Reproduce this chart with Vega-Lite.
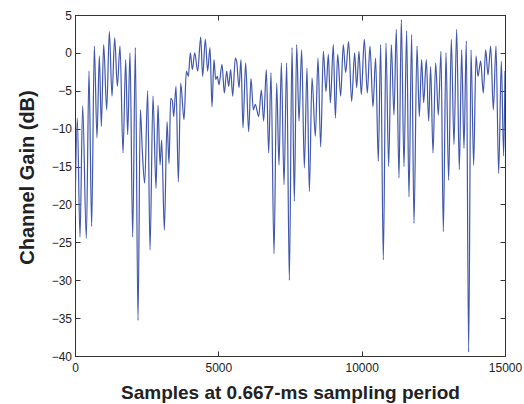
{
  "$schema": "https://vega.github.io/schema/vega-lite/v6.json",
  "width": 430,
  "height": 341,
  "autosize": {"type": "none"},
  "padding": {"left": 75, "top": 15, "right": 19, "bottom": 48},
  "background": "white",
  "config": {
    "view": {"stroke": "#333333", "strokeWidth": 1},
    "axis": {
      "domainColor": "#333333",
      "tickColor": "#333333",
      "tickSize": -5,
      "grid": false,
      "labelFont": "Liberation Sans",
      "labelFontSize": 12,
      "labelColor": "#222222",
      "labelFlush": false,
      "labelOverlap": false,
      "labelBound": false,
      "titleFont": "Liberation Sans",
      "titleFontWeight": "bold",
      "titleFontSize": 19,
      "titleColor": "#222222"
    }
  },
  "data": {"values": [
    {"sample": 0, "gain": -21.5},
    {"sample": 81, "gain": -8.6},
    {"sample": 174, "gain": -24.3},
    {"sample": 267, "gain": -7.0},
    {"sample": 395, "gain": -24.5},
    {"sample": 488, "gain": -2.4},
    {"sample": 581, "gain": -22.9},
    {"sample": 674, "gain": 0.9},
    {"sample": 767, "gain": -11.2},
    {"sample": 849, "gain": -0.4},
    {"sample": 919, "gain": -9.7},
    {"sample": 1000, "gain": 1.1},
    {"sample": 1105, "gain": -7.5},
    {"sample": 1198, "gain": 2.8},
    {"sample": 1291, "gain": -5.7},
    {"sample": 1384, "gain": 2.0},
    {"sample": 1477, "gain": -4.4},
    {"sample": 1570, "gain": 0.9},
    {"sample": 1675, "gain": -13.2},
    {"sample": 1768, "gain": -0.9},
    {"sample": 1837, "gain": -10.8},
    {"sample": 1919, "gain": 0.0},
    {"sample": 2012, "gain": -24.3},
    {"sample": 2105, "gain": 0.7},
    {"sample": 2198, "gain": -35.3},
    {"sample": 2279, "gain": -7.5},
    {"sample": 2349, "gain": -13.0},
    {"sample": 2431, "gain": -17.2},
    {"sample": 2535, "gain": -5.0},
    {"sample": 2617, "gain": -26.0},
    {"sample": 2721, "gain": -5.7},
    {"sample": 2826, "gain": -17.9},
    {"sample": 2896, "gain": -6.9},
    {"sample": 2966, "gain": -14.8},
    {"sample": 3024, "gain": -11.5},
    {"sample": 3117, "gain": -23.4},
    {"sample": 3210, "gain": -9.1},
    {"sample": 3280, "gain": -14.6},
    {"sample": 3338, "gain": -6.0},
    {"sample": 3396, "gain": -6.3},
    {"sample": 3442, "gain": -8.4},
    {"sample": 3524, "gain": -4.4},
    {"sample": 3605, "gain": -17.0},
    {"sample": 3687, "gain": -4.0},
    {"sample": 3803, "gain": -8.8},
    {"sample": 3884, "gain": -2.4},
    {"sample": 3954, "gain": -3.1},
    {"sample": 4024, "gain": 0.0},
    {"sample": 4094, "gain": -2.2},
    {"sample": 4175, "gain": 0.0},
    {"sample": 4280, "gain": -2.4},
    {"sample": 4385, "gain": 2.1},
    {"sample": 4453, "gain": -3.1},
    {"sample": 4546, "gain": 1.8},
    {"sample": 4627, "gain": -2.4},
    {"sample": 4709, "gain": 0.7},
    {"sample": 4779, "gain": -7.1},
    {"sample": 4848, "gain": -0.9},
    {"sample": 4907, "gain": -3.5},
    {"sample": 4965, "gain": -3.1},
    {"sample": 5023, "gain": -4.2},
    {"sample": 5128, "gain": -1.5},
    {"sample": 5209, "gain": -5.3},
    {"sample": 5290, "gain": -2.4},
    {"sample": 5360, "gain": -4.4},
    {"sample": 5430, "gain": -2.2},
    {"sample": 5500, "gain": -5.7},
    {"sample": 5593, "gain": -0.7},
    {"sample": 5639, "gain": -1.1},
    {"sample": 5721, "gain": -4.6},
    {"sample": 5790, "gain": -0.9},
    {"sample": 5860, "gain": -9.9},
    {"sample": 5953, "gain": -1.3},
    {"sample": 6058, "gain": -10.4},
    {"sample": 6139, "gain": -3.4},
    {"sample": 6221, "gain": -7.5},
    {"sample": 6291, "gain": -6.8},
    {"sample": 6407, "gain": -8.4},
    {"sample": 6500, "gain": -4.9},
    {"sample": 6581, "gain": -9.0},
    {"sample": 6674, "gain": -2.2},
    {"sample": 6756, "gain": -13.2},
    {"sample": 6837, "gain": -2.6},
    {"sample": 6942, "gain": -26.5},
    {"sample": 7035, "gain": -4.0},
    {"sample": 7116, "gain": -14.8},
    {"sample": 7198, "gain": -1.3},
    {"sample": 7291, "gain": -17.4},
    {"sample": 7384, "gain": -1.3},
    {"sample": 7477, "gain": -30.0},
    {"sample": 7570, "gain": 0.7},
    {"sample": 7651, "gain": -19.6},
    {"sample": 7733, "gain": 1.1},
    {"sample": 7814, "gain": -9.0},
    {"sample": 7907, "gain": 0.4},
    {"sample": 8000, "gain": -15.2},
    {"sample": 8093, "gain": -2.0},
    {"sample": 8175, "gain": -18.3},
    {"sample": 8268, "gain": -3.3},
    {"sample": 8384, "gain": -11.0},
    {"sample": 8477, "gain": -0.7},
    {"sample": 8570, "gain": -12.4},
    {"sample": 8663, "gain": 0.2},
    {"sample": 8756, "gain": -5.1},
    {"sample": 8838, "gain": -0.2},
    {"sample": 8907, "gain": -6.6},
    {"sample": 9012, "gain": 1.1},
    {"sample": 9082, "gain": -8.6},
    {"sample": 9163, "gain": -0.2},
    {"sample": 9268, "gain": -5.7},
    {"sample": 9359, "gain": 1.1},
    {"sample": 9441, "gain": -2.6},
    {"sample": 9545, "gain": 1.5},
    {"sample": 9650, "gain": -6.4},
    {"sample": 9755, "gain": 0.0},
    {"sample": 9825, "gain": -4.6},
    {"sample": 9906, "gain": 0.2},
    {"sample": 9987, "gain": -5.5},
    {"sample": 10092, "gain": 1.8},
    {"sample": 10197, "gain": -5.3},
    {"sample": 10290, "gain": 0.9},
    {"sample": 10394, "gain": -7.1},
    {"sample": 10487, "gain": -0.7},
    {"sample": 10580, "gain": -14.3},
    {"sample": 10662, "gain": 1.1},
    {"sample": 10755, "gain": -27.3},
    {"sample": 10848, "gain": 1.3},
    {"sample": 10941, "gain": -15.0},
    {"sample": 11034, "gain": 1.1},
    {"sample": 11127, "gain": -8.2},
    {"sample": 11208, "gain": 3.1},
    {"sample": 11302, "gain": -16.5},
    {"sample": 11383, "gain": 4.4},
    {"sample": 11476, "gain": -15.0},
    {"sample": 11569, "gain": 2.9},
    {"sample": 11650, "gain": -19.0},
    {"sample": 11743, "gain": 2.4},
    {"sample": 11825, "gain": -22.5},
    {"sample": 11930, "gain": 0.9},
    {"sample": 12011, "gain": -8.4},
    {"sample": 12092, "gain": -0.9},
    {"sample": 12162, "gain": -6.6},
    {"sample": 12255, "gain": -0.9},
    {"sample": 12337, "gain": -9.0},
    {"sample": 12406, "gain": -1.8},
    {"sample": 12488, "gain": -13.2},
    {"sample": 12581, "gain": -1.3},
    {"sample": 12674, "gain": -8.2},
    {"sample": 12767, "gain": 0.2},
    {"sample": 12848, "gain": -23.6},
    {"sample": 12941, "gain": 0.0},
    {"sample": 13034, "gain": -16.8},
    {"sample": 13127, "gain": 1.8},
    {"sample": 13220, "gain": -12.1},
    {"sample": 13314, "gain": 3.1},
    {"sample": 13407, "gain": -15.4},
    {"sample": 13488, "gain": 0.4},
    {"sample": 13569, "gain": -12.6},
    {"sample": 13651, "gain": 1.6},
    {"sample": 13732, "gain": -39.5},
    {"sample": 13814, "gain": 0.4},
    {"sample": 13907, "gain": -14.8},
    {"sample": 13988, "gain": -0.4},
    {"sample": 14058, "gain": -3.1},
    {"sample": 14151, "gain": -1.1},
    {"sample": 14244, "gain": -5.3},
    {"sample": 14325, "gain": 0.4},
    {"sample": 14407, "gain": -2.9},
    {"sample": 14500, "gain": 0.9},
    {"sample": 14593, "gain": -7.5},
    {"sample": 14686, "gain": 0.9},
    {"sample": 14779, "gain": -15.9},
    {"sample": 14872, "gain": -1.1},
    {"sample": 14953, "gain": -13.6},
    {"sample": 15000, "gain": -2.4}
  ]},
  "layer": [
    {
      "mark": {"type": "line", "color": "#4157aa", "strokeWidth": 1.2, "interpolate": "monotone", "clip": true},
      "encoding": {
        "x": {
          "field": "sample", "type": "quantitative",
          "scale": {"domain": [0, 15000], "nice": false, "zero": false},
          "axis": {
            "orient": "bottom", "values": [0, 5000, 10000, 15000], "format": "d",
            "labelPadding": 11,
            "title": "Samples at 0.667-ms sampling period",
            "titleY": 42, "titleBaseline": "alphabetic"
          }
        },
        "y": {
          "field": "gain", "type": "quantitative",
          "scale": {"domain": [-40, 5], "nice": false, "zero": false},
          "axis": {
            "orient": "left", "values": [-40, -35, -30, -25, -20, -15, -10, -5, 0, 5], "format": "d",
            "labelPadding": 8.5,
            "title": "Channel Gain (dB)", "titleFontSize": 20,
            "titleX": -38, "titleY": 162, "titleBaseline": "bottom", "titleAngle": -90
          }
        }
      }
    },
    {
      "mark": {"type": "point", "opacity": 0},
      "encoding": {
        "x": {
          "field": "sample", "type": "quantitative",
          "axis": {"orient": "top", "values": [0, 5000, 10000, 15000], "labels": false, "title": null}
        },
        "y": {
          "field": "gain", "type": "quantitative",
          "axis": {"orient": "right", "values": [-40, -35, -30, -25, -20, -15, -10, -5, 0, 5], "labels": false, "title": null}
        }
      }
    }
  ],
  "resolve": {"axis": {"x": "independent", "y": "independent"}}
}
